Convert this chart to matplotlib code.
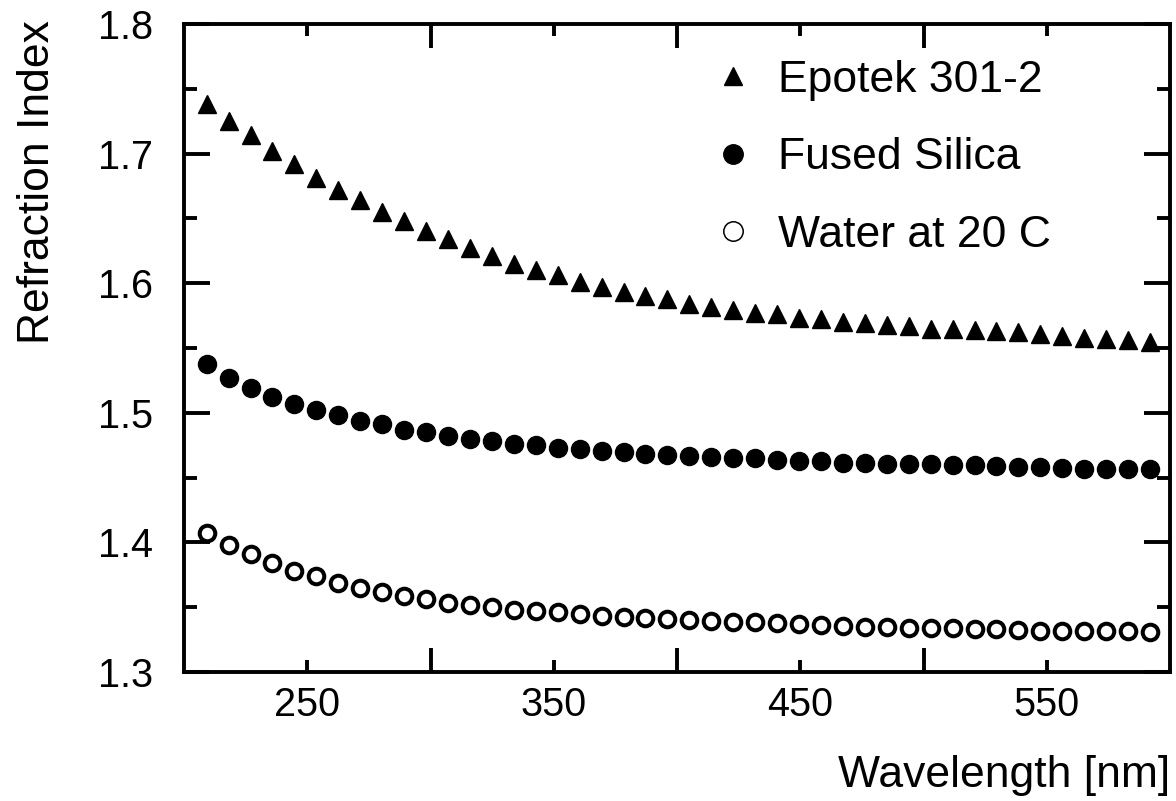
import matplotlib
matplotlib.use("Agg")
import matplotlib.pyplot as plt
from matplotlib.ticker import FixedLocator

plt.rcParams['font.family'] = ['Liberation Sans', 'DejaVu Sans']

# Data
wavelength = [209.2, 218.1, 227.0, 235.9, 244.8, 253.7, 262.6, 271.5, 280.4, 289.3,
              298.2, 307.1, 316.0, 324.9, 333.8, 342.7, 351.6, 360.5, 369.4, 378.3,
              387.2, 396.1, 405.0, 413.9, 422.8, 431.7, 440.6, 449.5, 458.4, 467.3,
              476.2, 485.1, 494.0, 502.9, 511.8, 520.7, 529.6, 538.5, 547.4, 556.3,
              565.2, 574.1, 583.0, 591.9]

epotek = [1.738, 1.725, 1.714, 1.702, 1.692, 1.681, 1.672, 1.664, 1.655, 1.648,
          1.640, 1.634, 1.627, 1.621, 1.615, 1.610, 1.606, 1.601, 1.597, 1.593,
          1.590, 1.588, 1.584, 1.582, 1.579, 1.577, 1.576, 1.573, 1.572, 1.570,
          1.569, 1.568, 1.567, 1.565, 1.5645, 1.5638, 1.563, 1.562, 1.561, 1.559,
          1.558, 1.557, 1.556, 1.555]

silica = [1.538, 1.527, 1.519, 1.512, 1.507, 1.502, 1.498, 1.494, 1.491, 1.487,
          1.485, 1.482, 1.480, 1.478, 1.476, 1.475, 1.473, 1.472, 1.4705, 1.470,
          1.4685, 1.4675, 1.467, 1.466, 1.465, 1.4648, 1.4636, 1.4628, 1.4625, 1.4615,
          1.461, 1.4608, 1.4605, 1.4602, 1.4598, 1.4595, 1.4592, 1.4582, 1.458, 1.4577,
          1.457, 1.4569, 1.4568, 1.4566]

water = [1.407, 1.398, 1.391, 1.384, 1.378, 1.374, 1.369, 1.365, 1.362, 1.359,
         1.356, 1.3535, 1.3515, 1.350, 1.348, 1.347, 1.346, 1.3448, 1.3435, 1.3424,
         1.342, 1.3407, 1.3398, 1.3395, 1.3388, 1.3383, 1.3376, 1.337, 1.3365, 1.3357,
         1.335, 1.3348, 1.3342, 1.334, 1.3337, 1.3332, 1.333, 1.3324, 1.332, 1.3319,
         1.3318, 1.3316, 1.3314, 1.3306]

labels = ["Epotek 301-2", "Fused Silica", "Water at 20 C"]

fig = plt.figure(figsize=(11.76, 8.01), dpi=100)
ax = fig.add_axes([184/1176, 1 - 672/801, (1170-184)/1176, (672-24)/801])

ax.plot(wavelength, epotek, ls='none', marker='^', ms=13, color='black', label=labels[0])
ax.plot(wavelength, silica, ls='none', marker='o', ms=13, color='black', label=labels[1])
ax.plot(wavelength, water, ls='none', marker='o', ms=11.2, mfc='white', mec='black',
        mew=2.9, label=labels[2])

ax.set_xlim(200, 600)
ax.set_ylim(1.3, 1.8)

# labelled x ticks are the short ones, unlabelled long ones in between
ax.xaxis.set_major_locator(FixedLocator([250, 350, 450, 550]))
ax.xaxis.set_minor_locator(FixedLocator([300, 400, 500]))
ax.yaxis.set_major_locator(FixedLocator([1.3, 1.4, 1.5, 1.6, 1.7, 1.8]))
ax.yaxis.set_minor_locator(FixedLocator([1.35, 1.45, 1.55, 1.65, 1.75]))
ax.set_yticklabels(["1.3", "1.4", "1.5", "1.6", "1.7", "1.8"])

ax.tick_params(axis='both', which='both', direction='in', top=True, right=True, width=2.8)
ax.tick_params(axis='x', which='major', length=8.6, labelsize=28.5, pad=10)
ax.tick_params(axis='x', which='minor', length=17)
ax.tick_params(axis='y', which='major', length=18.7, labelsize=28.5, pad=22)
ax.tick_params(axis='y', which='minor', length=9.4)
for s in ax.spines.values():
    s.set_linewidth(2.8)

fig.text(1170/1176, 1 - 787/801, "Wavelength [nm]", ha='right', va='baseline', fontsize=32)
fig.text(38/1176, 1 - 20/801, "Refraction Index", rotation=90, ha='center', va='top', fontsize=32)

leg = ax.legend(loc='upper left', bbox_to_anchor=(711/1176, 1 - 60/801),
                bbox_transform=fig.transFigure, frameon=False, fontsize=32,
                handlelength=1.0, handletextpad=0.5, labelspacing=0.82,
                borderpad=0, borderaxespad=0)
hs = leg.legend_handles
hs[0].set_markersize(13)
hs[1].set_markersize(14)
hs[2].set_markersize(14)
hs[2].set_markeredgewidth(1.1)

fig.savefig("out.png", dpi=100)
